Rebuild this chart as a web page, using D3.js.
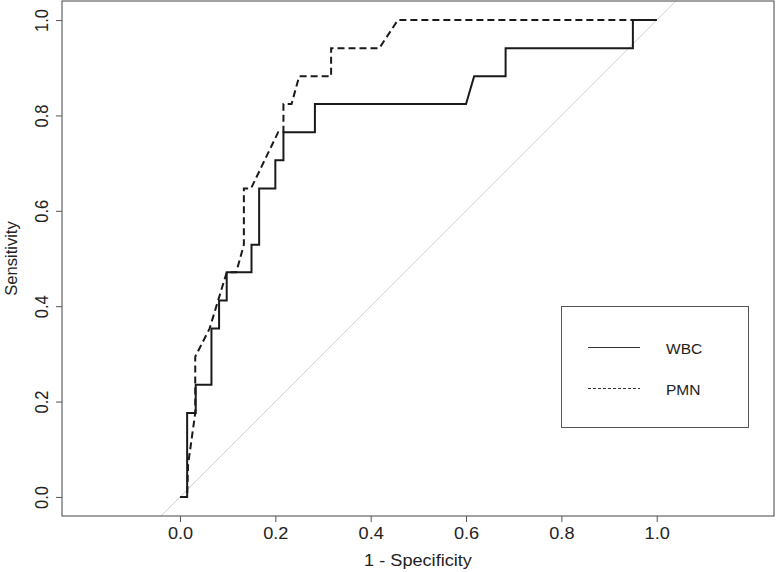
<!DOCTYPE html>
<html>
<head>
<meta charset="utf-8">
<script src="https://cdn.jsdelivr.net/npm/d3@7"></script>
<style>
body { margin: 0; background: #fff; }
text { font-family: "Liberation Sans", Arial, sans-serif; fill: #222; }
</style>
</head>
<body>
<script>
// ROC curve points (1 - specificity, sensitivity)
var wbcFpr = [0, 0.015, 0.015, 0.033, 0.033, 0.066, 0.066, 0.082, 0.082, 0.098, 0.098, 0.150, 0.150, 0.166, 0.166, 0.200, 0.200, 0.217, 0.217, 0.283, 0.283, 0.600, 0.617, 0.683, 0.683, 0.950, 0.950, 1.0];
var wbcTpr = [0, 0, 0.176, 0.176, 0.235, 0.235, 0.353, 0.353, 0.412, 0.412, 0.471, 0.471, 0.529, 0.529, 0.647, 0.647, 0.706, 0.706, 0.765, 0.765, 0.824, 0.824, 0.882, 0.882, 0.941, 0.941, 1.0, 1.0];

var pmnFpr = [0, 0.015, 0.017, 0.032, 0.032, 0.062, 0.098, 0.118, 0.134, 0.134, 0.149, 0.206, 0.217, 0.217, 0.234, 0.250, 0.317, 0.317, 0.418, 0.457, 1.0];
var pmnTpr = [0, 0, 0.068, 0.176, 0.294, 0.353, 0.471, 0.471, 0.529, 0.647, 0.647, 0.765, 0.765, 0.824, 0.824, 0.882, 0.882, 0.941, 0.941, 1.0, 1.0];

var xTicks = [0, 0.2, 0.4, 0.6, 0.8, 1.0];
var yTicks = [0, 0.2, 0.4, 0.6, 0.8, 1.0];
var seriesNames = ["WBC", "PMN"];

// layout
var canvasWidth = 777,
    canvasHeight = 572,
    box = {left: 62, right: 774, top: 1, bottom: 516},
    fontSize = 16.5,
    stretch = 1.1;

var figure = d3.select("body")
    .append("svg")
        .attr("width", canvasWidth)
        .attr("height", canvasHeight);

var x = d3.scaleLinear()
    .domain([-0.2475, 1.246])
    .range([box.left, box.right]);
var y = d3.scaleLinear()
    .domain([-0.04, 1.04])
    .range([box.bottom, box.top]);

figure.append("clipPath")
    .attr("id", "plot-clip")
    .append("rect")
        .attr("x", box.left)
        .attr("y", box.top)
        .attr("width", box.right - box.left)
        .attr("height", box.bottom - box.top);

var plot = figure.append("g").attr("clip-path", "url(#plot-clip)");

// reference diagonal
plot.append("line")
    .attr("x1", x(-0.05)).attr("y1", y(-0.05))
    .attr("x2", x(1.05)).attr("y2", y(1.05))
    .attr("stroke", "#d0d0d0")
    .attr("stroke-width", 1);

var line = d3.line()
    .x(function(d) { return x(d[0]); })
    .y(function(d) { return y(d[1]); });

var wbc = d3.zip(wbcFpr, wbcTpr),
    pmn = d3.zip(pmnFpr, pmnTpr);

plot.append("path")
    .datum(pmn)
    .attr("d", line)
    .attr("fill", "none")
    .attr("stroke", "#1a1a1a")
    .attr("stroke-width", 2)
    .attr("stroke-dasharray", "7,4");

plot.append("path")
    .datum(wbc)
    .attr("d", line)
    .attr("fill", "none")
    .attr("stroke", "#1a1a1a")
    .attr("stroke-width", 2);

// frame
figure.append("rect")
    .attr("x", box.left)
    .attr("y", box.top)
    .attr("width", box.right - box.left)
    .attr("height", box.bottom - box.top)
    .attr("fill", "none")
    .attr("stroke", "#444")
    .attr("stroke-width", 1);

// axes
var xAxis = figure.append("g")
    .attr("transform", "translate(0," + box.bottom + ")")
    .call(d3.axisBottom(x).tickValues(xTicks).tickFormat(d3.format(".1f")).tickSize(6).tickSizeOuter(0));
xAxis.attr("font-family", null).attr("font-size", null);
xAxis.select(".domain").remove();
xAxis.selectAll(".tick line").attr("stroke", "#555");
xAxis.selectAll(".tick text")
    .attr("y", 0).attr("dy", null)
    .attr("fill", null)
    .style("font-size", fontSize + "px")
    .attr("text-anchor", "middle")
    .attr("transform", "translate(0,23) scale(" + stretch + ",1)");

var yAxis = figure.append("g")
    .attr("transform", "translate(" + box.left + ",0)")
    .call(d3.axisLeft(y).tickValues(yTicks).tickFormat(d3.format(".1f")).tickSize(6).tickSizeOuter(0));
yAxis.attr("font-family", null).attr("font-size", null);
yAxis.select(".domain").remove();
yAxis.selectAll(".tick line").attr("stroke", "#555");
yAxis.selectAll(".tick text")
    .attr("x", 0).attr("dy", null)
    .attr("fill", null)
    .style("font-size", fontSize + "px")
    .attr("text-anchor", "middle")
    .attr("transform", "translate(-14,0) scale(" + stretch + ",1) rotate(-90)");

// axis labels
figure.append("text")
    .attr("class", "x-label")
    .attr("text-anchor", "middle")
    .style("font-size", fontSize + "px")
    .attr("transform", "translate(" + ((box.left + box.right) / 2) + ",566) scale(" + stretch + ",1)")
    .text("1 - Specificity");

figure.append("text")
    .attr("class", "y-label")
    .attr("text-anchor", "middle")
    .style("font-size", fontSize + "px")
    .attr("transform", "translate(17," + ((box.top + box.bottom) / 2) + ") rotate(-90)")
    .text("Sensitivity");

// legend
var legend = figure.append("g").attr("class", "legend");
legend.append("rect")
    .attr("x", 561.5).attr("y", 306.5)
    .attr("width", 187).attr("height", 121)
    .attr("fill", "#fff")
    .attr("stroke", "#555")
    .attr("stroke-width", 1);

var legendRows = legend.selectAll(".row")
    .data(seriesNames)
    .enter()
    .append("g")
    .attr("class", "row")
    .attr("transform", function(d, i) { return "translate(0," + (347.5 + i * 41) + ")"; });

legendRows.append("line")
    .attr("x1", 588).attr("x2", 640)
    .attr("stroke", "#333")
    .attr("stroke-width", 1)
    .attr("stroke-dasharray", function(d, i) { return i === 1 ? "3,2" : null; });

legendRows.append("text")
    .attr("x", 666)
    .attr("y", 6)
    .style("font-size", "15.5px")
    .text(function(d) { return d; });
</script>
</body>
</html>
